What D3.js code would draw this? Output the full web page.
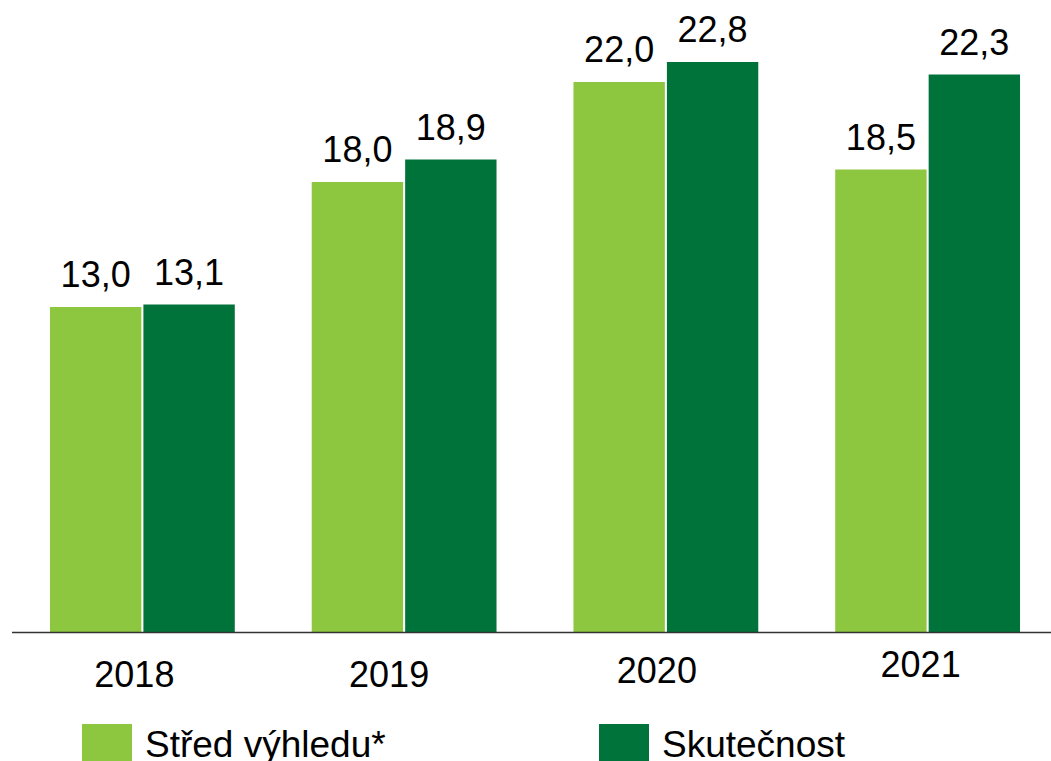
<!DOCTYPE html>
<html>
<head>
<meta charset="utf-8">
<title>Střed výhledu vs skutečnost</title>
<script src="https://d3js.org/d3.v7.min.js"></script>
<style>
  body { margin: 0; background: #fff; }
  svg text { font-family: "Liberation Sans", Arial, sans-serif; fill: #000; }
  .axis path { stroke: #333; stroke-width: 1.6; }
  .axis text { font-size: 36px; }
</style>
</head>
<body>
<script>
// data
var years = ["2018", "2019", "2020", "2021"];
var seriesNames = ["Střed výhledu*", "Skutečnost"];
var stred = [13.0, 18.0, 22.0, 18.5];
var skutecnost = [13.1, 18.9, 22.8, 22.3];
var colors = ["#8dc63f", "#00733a"];
// small hand nudges of the year labels, as in the original
var yearDx = [-8, -15, -9, -7];
var yearDy = [0, 0, -4, -10];

var w = 1051, h = 761;
var baseY = 632;

var svg = d3.select("body").append("svg")
  .attr("width", w)
  .attr("height", h);

var x0 = d3.scaleBand()
  .domain(years)
  .range([11.5, 1058.5])
  .paddingInner(0.294)
  .paddingOuter(0.147);

var x1 = d3.scaleBand()
  .domain(seriesNames)
  .range([0, x0.bandwidth()])
  .paddingInner(0.022);

var y = d3.scaleLinear()
  .domain([0, 25])
  .range([baseY, baseY - 25 * 25]);

var rows = years.map(function(yr, i) {
  return { year: yr, vals: [stred[i], skutecnost[i]] };
});

var groups = svg.selectAll("g.year")
  .data(rows)
  .enter().append("g")
  .attr("class", "year")
  .attr("transform", function(d) { return "translate(" + x0(d.year) + ",0)"; });

groups.selectAll("rect")
  .data(function(d) { return d.vals.map(function(v, j) { return { s: seriesNames[j], v: v, j: j }; }); })
  .enter().append("rect")
  .attr("x", function(d) { return x1(d.s); })
  .attr("y", function(d) { return y(d.v); })
  .attr("width", x1.bandwidth())
  .attr("height", function(d) { return baseY - y(d.v); })
  .attr("fill", function(d) { return colors[d.j]; });

var fmt = function(v) { return d3.format(".1f")(v).replace(".", ","); };

groups.selectAll("text.val")
  .data(function(d) { return d.vals.map(function(v, j) { return { s: seriesNames[j], v: v }; }); })
  .enter().append("text")
  .attr("class", "val")
  .attr("x", function(d) { return x1(d.s) + x1.bandwidth() / 2; })
  .attr("y", function(d) { return y(d.v) - 20; })
  .attr("text-anchor", "middle")
  .attr("font-size", "36px")
  .text(function(d) { return fmt(d.v); });

// x axis
var xAxis = d3.axisBottom(x0).tickSize(0).tickSizeOuter(0).tickPadding(0);
var ax = svg.append("g")
  .attr("class", "axis")
  .attr("transform", "translate(0," + baseY + ")")
  .call(xAxis);
ax.selectAll(".tick text")
  .attr("dy", null)
  .attr("x", function(d, i) { return yearDx[i]; })
  .attr("y", function(d, i) { return 55 + yearDy[i]; });

// legend (sits on the bottom edge, as in the original)
var legX = [82, 599];
var leg = svg.selectAll("g.leg")
  .data(seriesNames)
  .enter().append("g")
  .attr("class", "leg")
  .attr("transform", function(d, i) { return "translate(" + legX[i] + ",724)"; });
leg.append("rect")
  .attr("width", 50)
  .attr("height", 50)
  .attr("fill", function(d, i) { return colors[i]; });
leg.append("text")
  .attr("x", 63)
  .attr("y", 33)
  .attr("font-size", "37px")
  .text(function(d) { return d; });
</script>
</body>
</html>
